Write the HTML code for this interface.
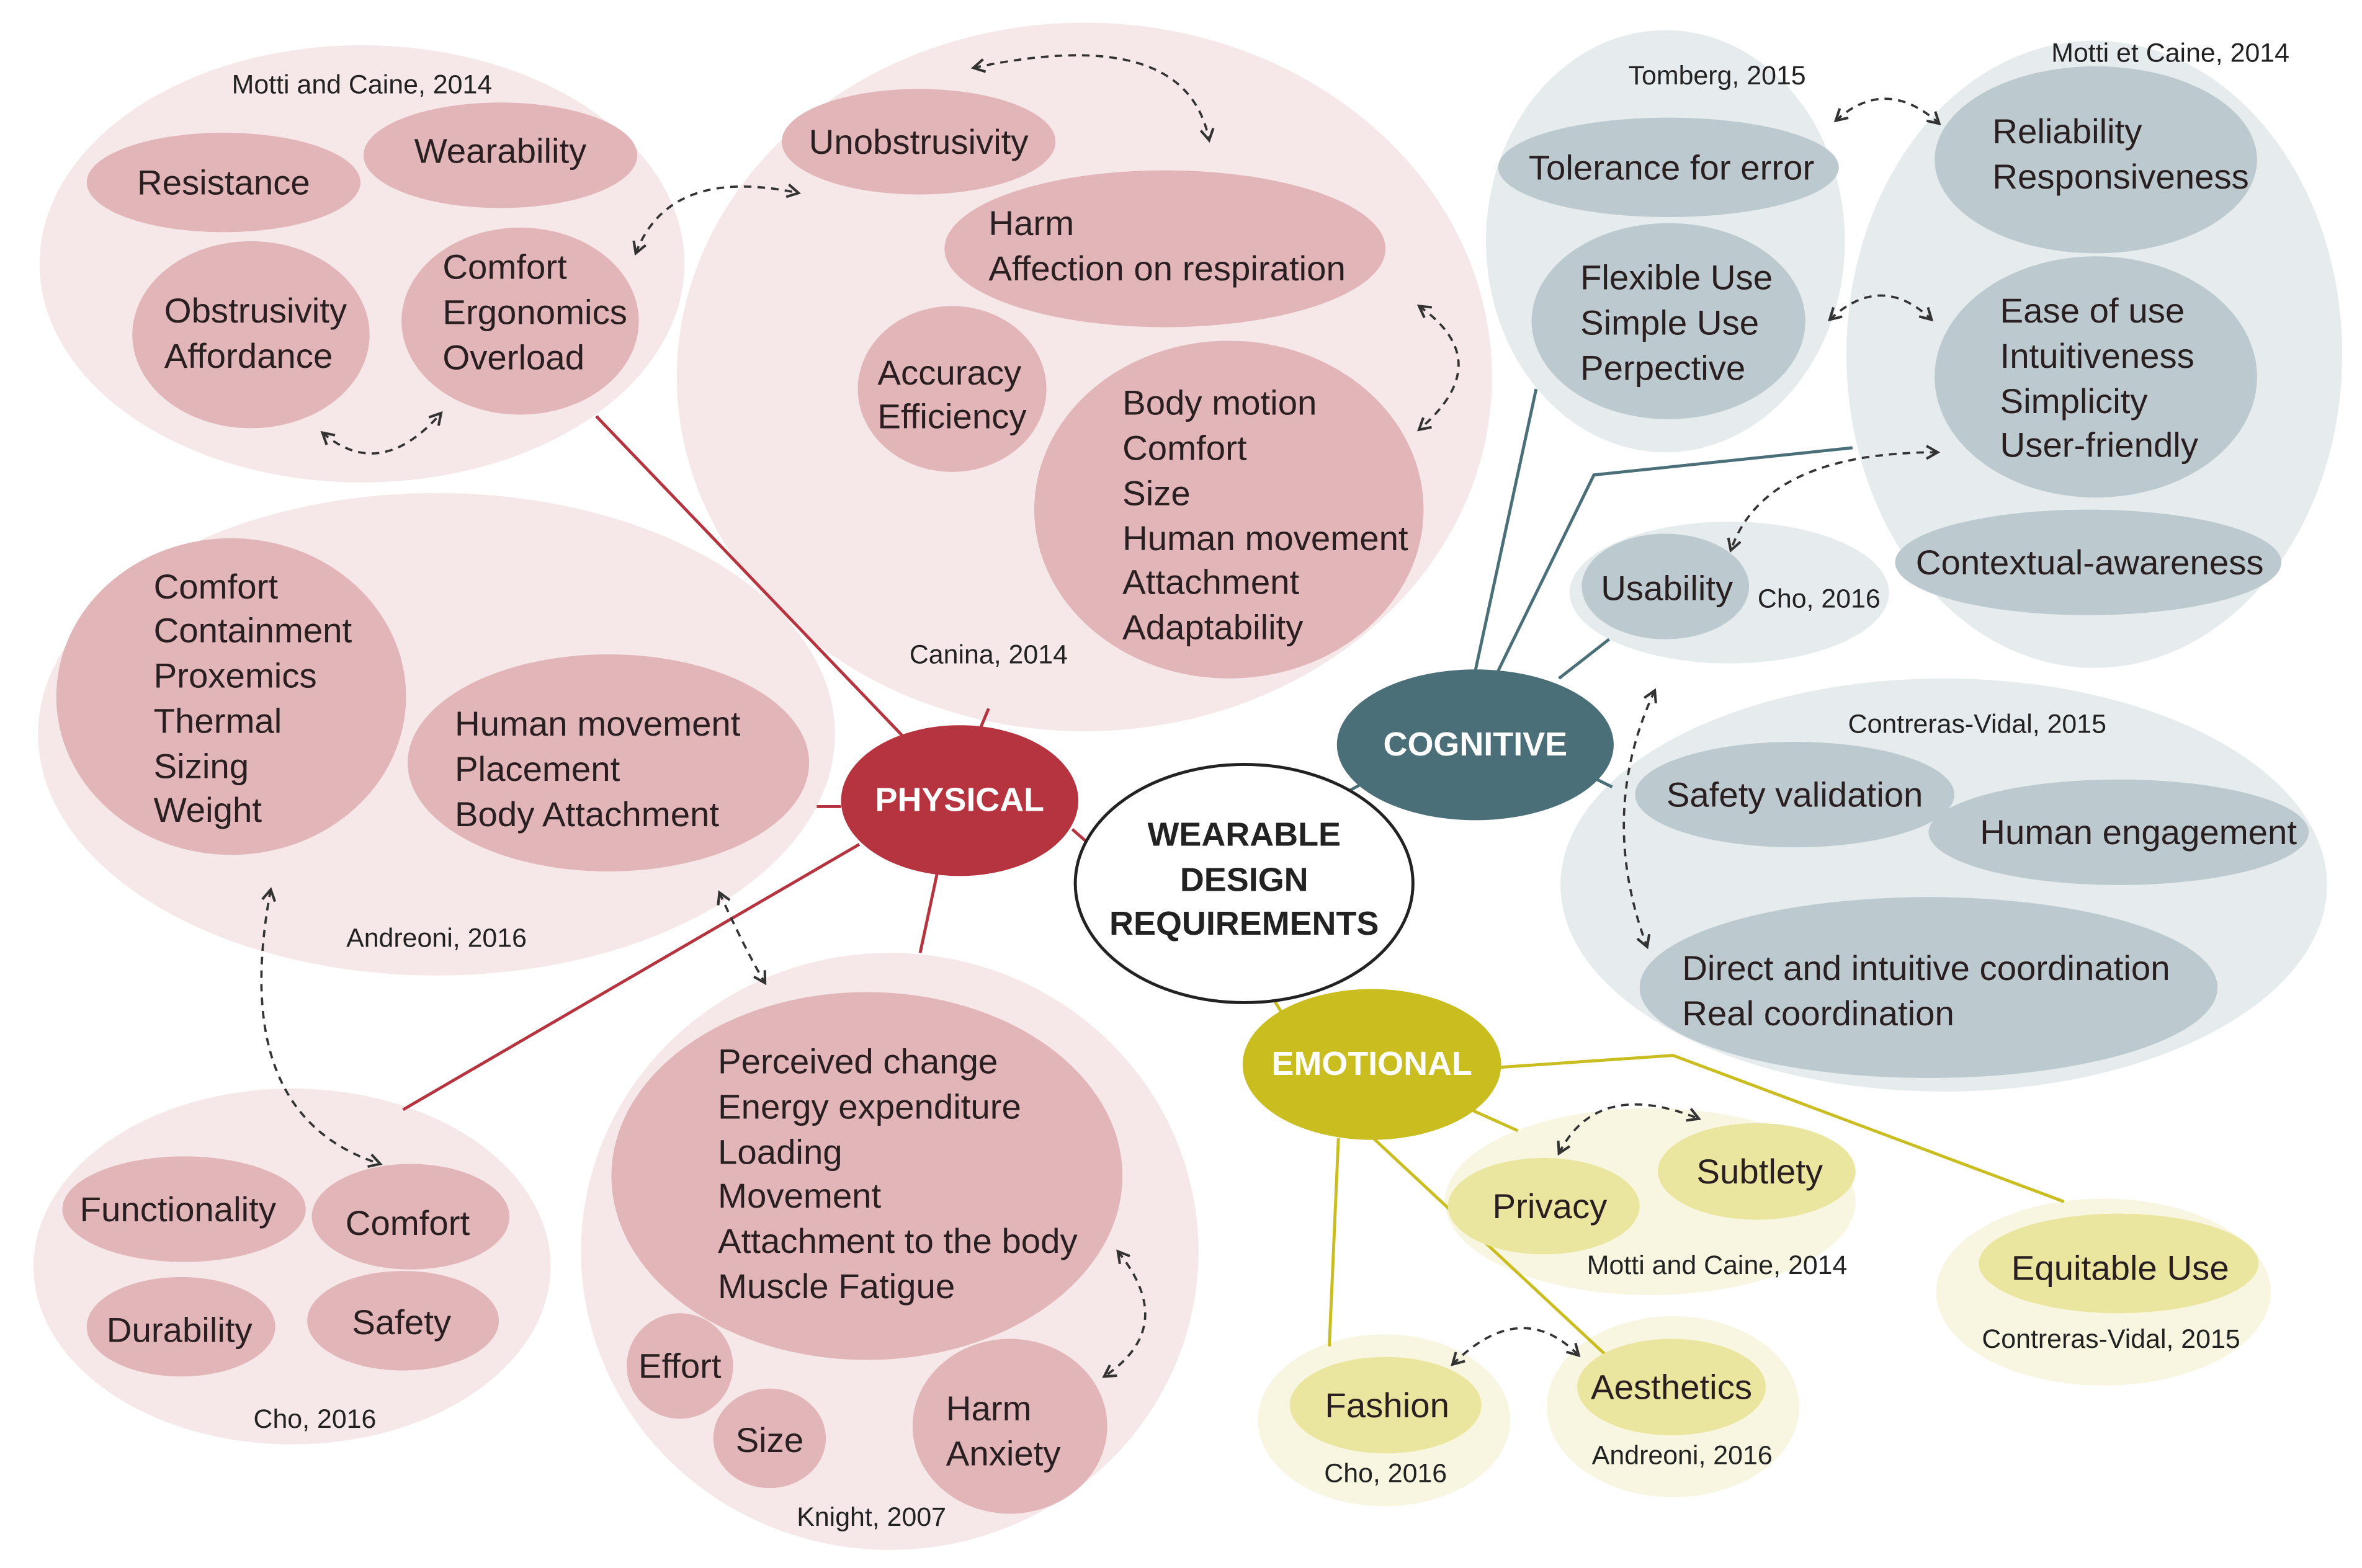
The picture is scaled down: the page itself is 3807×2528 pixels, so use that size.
<!DOCTYPE html>
<html><head><meta charset="utf-8"><style>
html,body{margin:0;padding:0;background:#fff;}
svg{display:block;}
text{font-family:"Liberation Sans",Arial,sans-serif;}
.it{font-size:23px;fill:#2a1f20;}
.lb{font-size:17.5px;fill:#222;}
.hd{font-size:22px;font-weight:bold;fill:#fff;}
.pb{fill:#f6e8e8;} .pi{fill:#e2b5b8;}
.cb{fill:#e6eced;} .ci{fill:#bccacf;}
.eb{fill:#f8f6e0;} .ei{fill:#ebe69f;}
.dash{fill:none;stroke:#333;stroke-width:1.5;stroke-dasharray:5,4;marker-start:url(#ah);marker-end:url(#ah);}
</style></head><body>
<svg width="3807" height="2528" viewBox="0 0 1553 1040" preserveAspectRatio="none" xmlns="http://www.w3.org/2000/svg">
<defs><marker id="ah" viewBox="0 0 10 10" refX="8" refY="5" markerWidth="7" markerHeight="7" orient="auto-start-reverse"><path d="M1,1 L8,5 L1,9" fill="none" stroke="#333" stroke-width="1.6"/></marker></defs>

<!-- background group ellipses -->
<ellipse class="pb" cx="238" cy="175" rx="212" ry="145"/>
<ellipse class="pb" cx="713" cy="250" rx="268" ry="235"/>
<ellipse class="pb" cx="287" cy="487" rx="262" ry="160"/>
<ellipse class="pb" cx="192" cy="840" rx="170" ry="118"/>
<ellipse class="pb" cx="585" cy="830" rx="203" ry="198"/>
<ellipse class="cb" cx="1095" cy="160" rx="118" ry="140"/>
<ellipse class="cb" cx="1377" cy="235" rx="163" ry="208"/>
<ellipse class="cb" cx="1137" cy="393" rx="105" ry="47"/>
<ellipse class="cb" cx="1278" cy="587" rx="252" ry="137"/>
<ellipse class="eb" cx="1085" cy="797" rx="135" ry="62"/>
<ellipse class="eb" cx="1383" cy="857" rx="110" ry="62"/>
<ellipse class="eb" cx="910" cy="942" rx="83" ry="57"/>
<ellipse class="eb" cx="1100" cy="933" rx="83" ry="60"/>

<!-- connectors -->
<g stroke="#b5343f" stroke-width="2" fill="none">
<line x1="600" y1="495" x2="392" y2="276"/>
<line x1="645" y1="482" x2="650" y2="470"/>
<line x1="553" y1="535" x2="537" y2="535"/>
<line x1="565" y1="560" x2="265" y2="736"/>
<line x1="616" y1="580" x2="605" y2="632"/>
<line x1="705" y1="550" x2="714" y2="558"/>
</g>
<g stroke="#4a6f78" stroke-width="2" fill="none">
<line x1="970" y1="445" x2="1010" y2="258"/>
<polyline points="985,445 1048,315 1218,297"/>
<line x1="1025" y1="450" x2="1058" y2="424"/>
<line x1="888" y1="524" x2="897" y2="519"/>
<line x1="1050" y1="517" x2="1060" y2="522"/>
</g>
<g stroke="#c9bd1f" stroke-width="2" fill="none">
<polyline points="985,708 1100,700 1357,797"/>
<line x1="965" y1="735" x2="998" y2="750"/>
<line x1="880" y1="755" x2="874" y2="893"/>
<line x1="903" y1="755" x2="1055" y2="898"/>
<line x1="838" y1="664" x2="843" y2="672"/>
</g>

<!-- physical inner -->
<ellipse class="pi" cx="147" cy="121" rx="90" ry="33"/>
<ellipse class="pi" cx="329" cy="103" rx="90" ry="35"/>
<ellipse class="pi" cx="165" cy="222" rx="78" ry="62"/>
<ellipse class="pi" cx="342" cy="213" rx="78" ry="62"/>
<ellipse class="pi" cx="604" cy="94" rx="90" ry="35"/>
<ellipse class="pi" cx="766" cy="165" rx="145" ry="52"/>
<ellipse class="pi" cx="626" cy="258" rx="62" ry="55"/>
<ellipse class="pi" cx="808" cy="338" rx="128" ry="112"/>
<ellipse class="pi" cx="152" cy="462" rx="115" ry="105"/>
<ellipse class="pi" cx="400" cy="506" rx="132" ry="72"/>
<ellipse class="pi" cx="121" cy="802" rx="80" ry="35"/>
<ellipse class="pi" cx="270" cy="807" rx="65" ry="35"/>
<ellipse class="pi" cx="119" cy="880" rx="62" ry="33"/>
<ellipse class="pi" cx="265" cy="876" rx="63" ry="33"/>
<ellipse class="pi" cx="570" cy="780" rx="168" ry="122"/>
<ellipse class="pi" cx="447" cy="906" rx="35" ry="35"/>
<ellipse class="pi" cx="506" cy="954" rx="37" ry="33"/>
<ellipse class="pi" cx="664" cy="946" rx="64" ry="58"/>

<!-- cognitive inner -->
<ellipse class="ci" cx="1097" cy="111" rx="112" ry="33"/>
<ellipse class="ci" cx="1097" cy="213" rx="90" ry="65"/>
<ellipse class="ci" cx="1378" cy="106" rx="106" ry="62"/>
<ellipse class="ci" cx="1378" cy="250" rx="106" ry="80"/>
<ellipse class="ci" cx="1373" cy="373" rx="127" ry="35"/>
<ellipse class="ci" cx="1095" cy="389" rx="55" ry="35"/>
<ellipse class="ci" cx="1180" cy="527" rx="105" ry="35"/>
<ellipse class="ci" cx="1393" cy="552" rx="125" ry="35"/>
<ellipse class="ci" cx="1268" cy="655" rx="190" ry="60"/>

<!-- emotional inner -->
<ellipse class="ei" cx="1015" cy="800" rx="63" ry="32"/>
<ellipse class="ei" cx="1155" cy="777" rx="65" ry="32"/>
<ellipse class="ei" cx="1393" cy="838" rx="92" ry="33"/>
<ellipse class="ei" cx="911" cy="932" rx="63" ry="32"/>
<ellipse class="ei" cx="1099" cy="920" rx="62" ry="32"/>

<!-- main nodes -->
<ellipse cx="631" cy="531" rx="78" ry="50" fill="#b5343f"/>
<ellipse cx="970" cy="494" rx="91" ry="50" fill="#4a6f78"/>
<ellipse cx="902" cy="706" rx="85" ry="50" fill="#c9bd1f"/>
<ellipse cx="818" cy="586" rx="111" ry="79" fill="#fff" stroke="#222" stroke-width="2"/>
<text class="hd" x="631" y="538" text-anchor="middle">PHYSICAL</text>
<text class="hd" x="970" y="501" text-anchor="middle">COGNITIVE</text>
<text class="hd" x="902" y="713" text-anchor="middle">EMOTIONAL</text>
<g style="font-size:22px;font-weight:bold;fill:#222" text-anchor="middle">
<text x="818" y="561">WEARABLE</text><text x="818" y="591">DESIGN</text><text x="818" y="620">REQUIREMENTS</text></g>

<!-- dashed arrows -->
<path class="dash" d="M418,168 Q440,110 525,128"/>
<path class="dash" d="M212,287 Q250,320 290,274"/>
<path class="dash" d="M640,45 Q780,15 795,93"/>
<path class="dash" d="M933,203 Q985,240 933,285"/>
<path class="dash" d="M1207,80 Q1240,50 1275,82"/>
<path class="dash" d="M1203,212 Q1237,180 1270,212"/>
<path class="dash" d="M1274,300 Q1160,300 1138,365"/>
<path class="dash" d="M1088,458 Q1050,540 1083,628"/>
<path class="dash" d="M178,590 Q150,740 250,772"/>
<path class="dash" d="M473,592 Q490,630 503,652"/>
<path class="dash" d="M735,830 Q775,880 726,913"/>
<path class="dash" d="M1025,765 Q1050,715 1117,742"/>
<path class="dash" d="M955,905 Q1000,860 1038,899"/>

<!-- labels -->
<g class="lb" text-anchor="middle">
<text x="238" y="62">Motti and Caine, 2014</text>
<text x="650" y="440">Canina, 2014</text>
<text x="287" y="628">Andreoni, 2016</text>
<text x="207" y="947">Cho, 2016</text>
<text x="573" y="1012">Knight, 2007</text>
<text x="1129" y="56">Tomberg, 2015</text>
<text x="1427" y="41">Motti et Caine, 2014</text>
<text x="1196" y="403">Cho, 2016</text>
<text x="1300" y="486">Contreras-Vidal, 2015</text>
<text x="1129" y="845">Motti and Caine, 2014</text>
<text x="1388" y="894">Contreras-Vidal, 2015</text>
<text x="911" y="983">Cho, 2016</text>
<text x="1106" y="971">Andreoni, 2016</text>
</g>

<!-- item text -->
<g class="it">
<text x="147" y="129" text-anchor="middle">Resistance</text>
<text x="329" y="108" text-anchor="middle">Wearability</text>
<text x="108" y="214">Obstrusivity</text><text x="108" y="244">Affordance</text>
<text x="291" y="185">Comfort</text><text x="291" y="215">Ergonomics</text><text x="291" y="245">Overload</text>
<text x="604" y="102" text-anchor="middle">Unobstrusivity</text>
<text x="650" y="156">Harm</text><text x="650" y="186">Affection on respiration</text>
<text x="577" y="255">Accuracy</text><text x="577" y="284">Efficiency</text>
<text x="738" y="275">Body motion</text><text x="738" y="305">Comfort</text><text x="738" y="335">Size</text><text x="738" y="365">Human movement</text><text x="738" y="394">Attachment</text><text x="738" y="424">Adaptability</text>
<text x="101" y="397">Comfort</text><text x="101" y="426">Containment</text><text x="101" y="456">Proxemics</text><text x="101" y="486">Thermal</text><text x="101" y="516">Sizing</text><text x="101" y="545">Weight</text>
<text x="299" y="488">Human movement</text><text x="299" y="518">Placement</text><text x="299" y="548">Body Attachment</text>
<text x="117" y="810" text-anchor="middle">Functionality</text>
<text x="268" y="819" text-anchor="middle">Comfort</text>
<text x="118" y="890" text-anchor="middle">Durability</text>
<text x="264" y="885" text-anchor="middle">Safety</text>
<text x="472" y="712">Perceived change</text><text x="472" y="742">Energy expenditure</text><text x="472" y="772">Loading</text><text x="472" y="801">Movement</text><text x="472" y="831">Attachment to the body</text><text x="472" y="861">Muscle Fatigue</text>
<text x="447" y="914" text-anchor="middle">Effort</text>
<text x="506" y="963" text-anchor="middle">Size</text>
<text x="622" y="942">Harm</text><text x="622" y="972">Anxiety</text>
<text x="1099" y="119" text-anchor="middle">Tolerance for error</text>
<text x="1039" y="192">Flexible Use</text><text x="1039" y="222">Simple Use</text><text x="1039" y="252">Perpective</text>
<text x="1310" y="95">Reliability</text><text x="1310" y="125">Responsiveness</text>
<text x="1315" y="214">Ease of use</text><text x="1315" y="244">Intuitiveness</text><text x="1315" y="274">Simplicity</text><text x="1315" y="303">User-friendly</text>
<text x="1374" y="381" text-anchor="middle">Contextual-awareness</text>
<text x="1096" y="398" text-anchor="middle">Usability</text>
<text x="1180" y="535" text-anchor="middle">Safety validation</text>
<text x="1406" y="560" text-anchor="middle">Human engagement</text>
<text x="1106" y="650">Direct and intuitive coordination</text><text x="1106" y="680">Real coordination</text>
<text x="1019" y="808" text-anchor="middle">Privacy</text>
<text x="1157" y="785" text-anchor="middle">Subtlety</text>
<text x="1394" y="849" text-anchor="middle">Equitable Use</text>
<text x="912" y="940" text-anchor="middle">Fashion</text>
<text x="1099" y="928" text-anchor="middle">Aesthetics</text>
</g>
</svg>
</body></html>
